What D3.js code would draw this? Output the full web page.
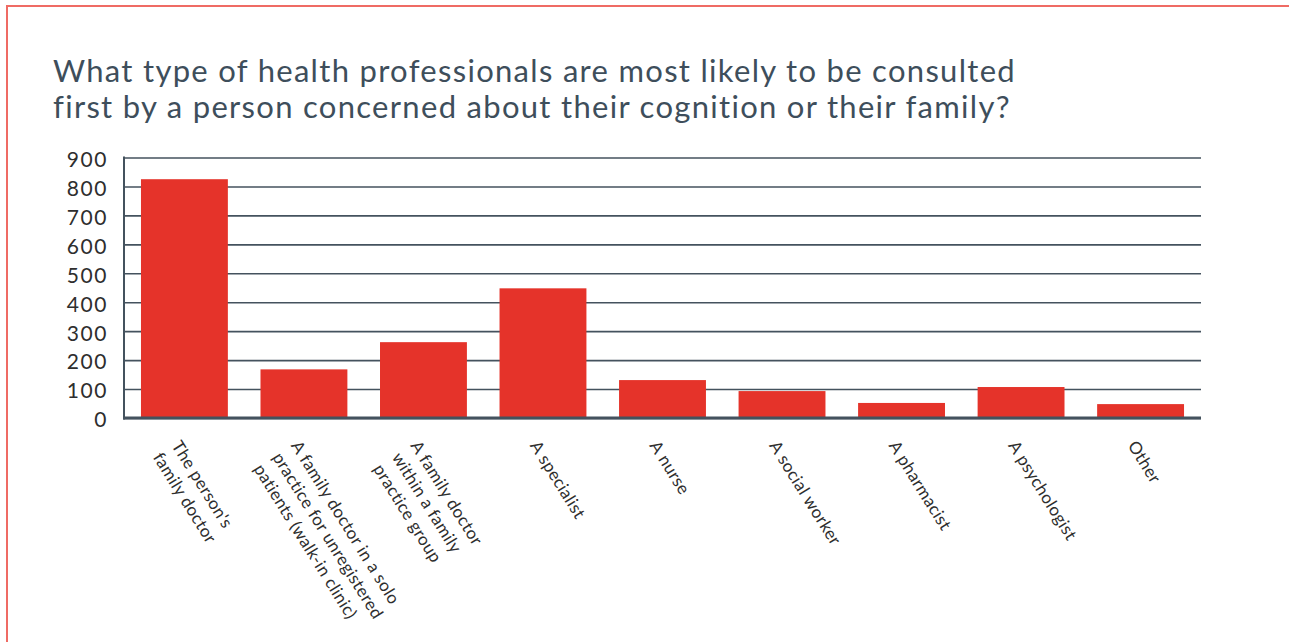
<!DOCTYPE html>
<html>
<head>
<meta charset="utf-8">
<script src="https://cdn.jsdelivr.net/npm/d3@7"></script>
<style>
  body { margin: 0; background: #fff; }
  svg { display: block; }
  .title { font-family: Lato, "Open Sans", sans-serif; font-size: 31px; letter-spacing: 1.3px; fill: #3e4e5b; }
  .ytick { font-family: Lato, sans-serif; font-size: 21px; letter-spacing: 1.6px; fill: #2e2e2e; }
  .xlab { font-family: Lato, sans-serif; font-size: 17px; letter-spacing: 0.4px; fill: #2e2e2e; }
</style>
</head>
<body>
<svg width="1289" height="642"></svg>
<script>
// categories, one entry per bar, split the way the labels wrap
const categories = [
  ["The person's", "family doctor"],
  ["A family doctor in a solo", "practice for unregistered", "patients (walk-in clinic)"],
  ["A family doctor", "within a family", "practice group"],
  ["A specialist"],
  ["A nurse"],
  ["A social worker"],
  ["A pharmacist"],
  ["A psychologist"],
  ["Other"]
];
const values = [825, 168, 262, 448, 131, 93, 52, 107, 48];
const yTicks = [0, 100, 200, 300, 400, 500, 600, 700, 800, 900];
const titleLines = [
  "What type of health professionals are most likely to be consulted",
  "first by a person concerned about their cognition or their family?"
];

const svg = d3.select('svg');

// frame
svg.append('path')
  .attr('d', 'M7,642 V6 H1289')
  .attr('fill', 'none')
  .attr('stroke', '#ef6b64')
  .attr('stroke-width', 2);

svg.append('text')
  .attr('class', 'title')
  .attr('x', 53)
  .selectAll('tspan')
  .data(titleLines)
  .enter()
  .append('tspan')
  .attr('x', 53)
  .attr('y', (d, i) => 82 + i * 36)
  .text(d => d);

const plotLeft = 124, plotRight = 1201, plotTop = 157.5, plotBottom = 418;

const xScale = d3.scaleBand()
  .domain(d3.range(categories.length))
  .range([plotLeft, plotRight])
  .paddingInner(0.273)
  .paddingOuter(0.142);

const yScale = d3.scaleLinear()
  .domain([0, 900])
  .range([plotBottom, plotTop]);

// gridlines
svg.append('g')
  .attr('transform', `translate(${plotLeft},0)`)
  .call(d3.axisLeft(yScale).tickValues(yTicks).tickSize(-(plotRight - plotLeft)).tickFormat(''))
  .call(g => g.select('.domain').remove())
  .call(g => g.selectAll('.tick line').attr('stroke', '#44525e').attr('stroke-width', 1.6));

// bars
svg.append('g')
  .selectAll('rect')
  .data(values)
  .enter()
  .append('rect')
  .attr('x', (d, i) => xScale(i))
  .attr('y', d => yScale(d))
  .attr('width', xScale.bandwidth())
  .attr('height', d => yScale(0) - yScale(d))
  .attr('fill', '#e5332a');

// axis lines
svg.append('line')
  .attr('x1', plotLeft).attr('x2', plotLeft)
  .attr('y1', plotTop - 1).attr('y2', plotBottom + 1.5)
  .attr('stroke', '#44525e').attr('stroke-width', 2);
svg.append('line')
  .attr('x1', plotLeft - 1).attr('x2', plotRight)
  .attr('y1', yScale(0)).attr('y2', yScale(0))
  .attr('stroke', '#44525e').attr('stroke-width', 3);

// y tick labels
svg.append('g')
  .selectAll('text')
  .data(yTicks)
  .enter()
  .append('text')
  .attr('class', 'ytick')
  .attr('x', 108)
  .attr('y', d => yScale(d) + 2)
  .attr('dy', '0.35em')
  .attr('text-anchor', 'end')
  .text(d => d);

// x labels, rotated
const labs = svg.append('g')
  .selectAll('g')
  .data(categories)
  .enter()
  .append('g')
  .attr('transform', (d, i) => `translate(${xScale(i) + xScale.bandwidth() / 2 - 3}, 439) rotate(58)`);

labs.append('text')
  .attr('class', 'xlab')
  .selectAll('tspan')
  .data(d => d)
  .enter()
  .append('tspan')
  .attr('x', 0)
  .attr('y', (d, i) => i * 22)
  .attr('dy', '0.72em')
  .text(d => d);
</script>
</body>
</html>
